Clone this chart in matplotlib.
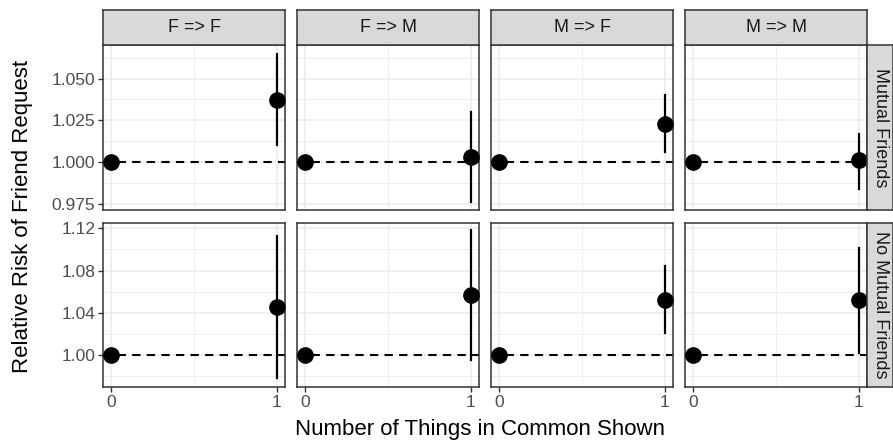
import matplotlib
matplotlib.use("Agg")
import matplotlib.pyplot as plt
from matplotlib.ticker import FixedLocator

plt.rcParams['font.family'] = ['Liberation Sans', 'DejaVu Sans']

# facets
pairs = ["F => F", "F => M", "M => F", "M => M"]
groups = ["Mutual Friends", "No Mutual Friends"]
shown = [0, 1]

# relative risk at 1 thing shown (0 is the baseline = 1)
rr_mutual = [1.037, 1.003, 1.023, 1.001]
lo_mutual = [1.010, 0.976, 1.006, 0.984]
hi_mutual = [1.065, 1.030, 1.040, 1.017]

rr_none = [1.045, 1.057, 1.052, 1.052]
lo_none = [0.978, 0.995, 1.021, 1.002]
hi_none = [1.113, 1.118, 1.084, 1.101]

baseline = 1.0

y_ticks = [[0.975, 1.000, 1.025, 1.050], [1.00, 1.04, 1.08, 1.12]]
y_labels = [["0.975", "1.000", "1.025", "1.050"], ["1.00", "1.04", "1.08", "1.12"]]
y_minor = [[0.9875, 1.0125, 1.0375, 1.0625], [0.98, 1.02, 1.06, 1.10]]
y_lims = [(0.9712, 1.0701), (0.9697, 1.125)]

W, H = 893, 446
fig = plt.figure(figsize=(W / 100, H / 100), dpi=100)

def box(x0, y0, x1, y1):
    return [x0 / W, 1 - y1 / H, (x1 - x0) / W, (y1 - y0) / H]

col_x = [(103, 285), (297, 479), (491, 673), (685, 867)]
row_y = [(45, 210), (223, 387)]
rows = [(rr_mutual, lo_mutual, hi_mutual), (rr_none, lo_none, hi_none)]

grid_c = "#EBEBEB"
edge_c = "#333333"
tick_c = "#4D4D4D"

for r, (y0, y1) in enumerate(row_y):
    rr, lo, hi = rows[r]
    for c, (x0, x1) in enumerate(col_x):
        ax = fig.add_axes(box(x0, y0, x1, y1))
        ax.set_xlim(-0.05, 1.05)
        ax.set_ylim(*y_lims[r])
        ax.xaxis.set_major_locator(FixedLocator(shown))
        ax.xaxis.set_minor_locator(FixedLocator([0.5]))
        ax.yaxis.set_major_locator(FixedLocator(y_ticks[r]))
        ax.yaxis.set_minor_locator(FixedLocator(y_minor[r]))
        ax.grid(which="major", color=grid_c, lw=1.1)
        ax.grid(which="minor", color=grid_c, lw=0.6)
        ax.set_axisbelow(True)
        for s in ax.spines.values():
            s.set_color(edge_c)
            s.set_linewidth(1.1)
        ax.tick_params(which="minor", length=0)
        ax.tick_params(which="major", length=3.5, width=1, color=edge_c,
                       labelsize=12.5, labelcolor=tick_c, pad=2)
        if c == 0:
            ax.set_yticklabels(y_labels[r])
        else:
            ax.tick_params(axis="y", which="major", length=0, labelleft=False)
        if r == 1:
            ax.set_xticklabels([str(v) for v in shown])
        else:
            ax.tick_params(axis="x", which="major", length=0, labelbottom=False)

        ax.axhline(baseline, color="black", lw=1.5, ls=(0, (4, 3)), zorder=2)
        ax.plot([shown[1], shown[1]], [lo[c], hi[c]], color="black", lw=1.6, zorder=3)
        ax.plot(shown, [baseline, rr[c]], "o", color="black", ms=11, ls="none",
                zorder=4, clip_on=False)

        if r == 0:
            sax = fig.add_axes(box(x0, 10, x1, 45))
            sax.set_facecolor("#D9D9D9")
            sax.set_xticks([]); sax.set_yticks([])
            for s in sax.spines.values():
                s.set_color(edge_c)
                s.set_linewidth(1.1)
            sax.text(0.5, 0.5, pairs[c], ha="center", va="center",
                     fontsize=13, color="#1A1A1A", transform=sax.transAxes)

    rax = fig.add_axes(box(867, y0, 893, y1))
    rax.set_facecolor("#D9D9D9")
    rax.set_xticks([]); rax.set_yticks([])
    for s in rax.spines.values():
        s.set_color(edge_c)
        s.set_linewidth(1.1)
    rax.text(0.5, 0.5, groups[r], ha="center", va="center", rotation=-90,
             fontsize=13, color="#1A1A1A", transform=rax.transAxes)

fig.text(480 / W, 1 - 430 / H, "Number of Things in Common Shown",
         ha="center", va="center", fontsize=16, color="black")
fig.text(23 / W, 1 - 216 / H, "Relative Risk of Friend Request",
         ha="center", va="center", rotation=90, fontsize=16, color="black")

fig.savefig("out.png", dpi=100)
